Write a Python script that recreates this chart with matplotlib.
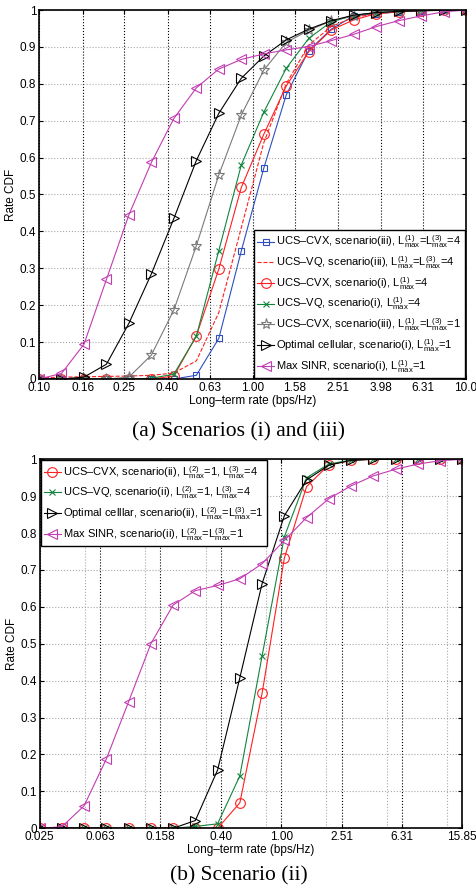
import numpy as np
import matplotlib
matplotlib.use('Agg')
import matplotlib.pyplot as plt
from matplotlib.ticker import NullLocator, NullFormatter

plt.rcParams['font.family'] = ['Liberation Sans', 'DejaVu Sans']
plt.rcParams['mathtext.fontset'] = 'custom'
plt.rcParams['mathtext.rm'] = 'Liberation Sans'
plt.rcParams['mathtext.default'] = 'regular'

# ---- data: (a) scenarios (i) and (iii), 20 points log-spaced 0.1 .. 10
rate_a = np.logspace(-1, 1, 20)
cvx_iii_4 = [0, 0, 0, 0, 0, 0, 0, 0.010, 0.110, 0.347, 0.571, 0.770, 0.890, 0.948, 0.984, 0.990, 0.995, 0.998, 1, 1]
vq_iii_4 = [0.003, 0.005, 0.006, 0.007, 0.008, 0.010, 0.016, 0.049, 0.180, 0.410, 0.640, 0.800, 0.905, 0.955, 0.980, 0.990, 0.996, 0.998, 1, 1]
cvx_i_4 = [0, 0, 0, 0, 0, 0, 0.008, 0.117, 0.298, 0.519, 0.663, 0.794, 0.887, 0.946, 0.973, 0.990, 0.995, 0.998, 1, 1]
vq_i_4 = [0, 0, 0, 0, 0, 0.002, 0.013, 0.116, 0.348, 0.580, 0.723, 0.842, 0.923, 0.968, 0.985, 0.993, 0.997, 0.999, 1, 1]
cvx_iii_1 = [0, 0, 0, 0, 0.005, 0.065, 0.187, 0.361, 0.553, 0.715, 0.837, 0.912, 0.945, 0.970, 0.985, 0.993, 0.997, 0.999, 1, 1]
opt_i_1 = [0, 0, 0.005, 0.040, 0.151, 0.285, 0.435, 0.592, 0.720, 0.815, 0.875, 0.919, 0.948, 0.971, 0.986, 0.993, 0.996, 0.998, 0.999, 1]
sinr_i_1 = [0, 0.015, 0.094, 0.270, 0.445, 0.587, 0.706, 0.789, 0.840, 0.866, 0.881, 0.892, 0.901, 0.917, 0.934, 0.955, 0.971, 0.984, 0.995, 1]
ticks_a = [0.10, 0.16, 0.25, 0.40, 0.63, 1.00, 1.58, 2.51, 3.98, 6.31, 10.0]
ticklabels_a = ['0.10', '0.16', '0.25', '0.40', '0.63', '1.00', '1.58', '2.51', '3.98', '6.31', '10.0']

# ---- data: (b) scenario (ii), 20 points log-spaced 0.025 .. 15.85
rate_b = np.logspace(-1.6, 1.2, 20)
cvx_ii = [0, 0, 0, 0, 0, 0, 0, 0, 0, 0.069, 0.366, 0.732, 0.926, 0.985, 0.997, 1, 1, 1, 1, 1]
vq_ii = [0, 0, 0, 0, 0, 0, 0, 0.005, 0.012, 0.142, 0.467, 0.790, 0.950, 0.987, 0.998, 1, 1, 1, 1, 1]
opt_ii = [0, 0, 0, 0, 0, 0, 0, 0.021, 0.158, 0.408, 0.663, 0.847, 0.944, 0.984, 0.997, 1, 1, 1, 1, 1]
sinr_ii = [0, 0.004, 0.061, 0.188, 0.343, 0.500, 0.605, 0.644, 0.658, 0.676, 0.717, 0.780, 0.842, 0.893, 0.928, 0.955, 0.973, 0.987, 0.996, 1]
ticks_b = [0.0251, 0.0631, 0.1585, 0.398, 1.0, 2.512, 6.31, 15.85]
ticklabels_b = ['0.025', '0.063', '0.158', '0.40', '1.00', '2.51', '6.31', '15.85']
minor_b = [0.0501, 0.1259, 0.3162, 0.7943, 1.995, 5.012, 12.59]

yticks = np.arange(0, 1.01, 0.1)
yticklabels = ['0', '0.1', '0.2', '0.3', '0.4', '0.5', '0.6', '0.7', '0.8', '0.9', '1']

BLUE = '#2f4fc0'
RED = '#ff1f1f'
GREEN = '#12843e'
GRAY = '#7a7a7a'
MAG = '#c23cb2'

fig = plt.figure(figsize=(4.77, 8.93), dpi=100)
ax1 = fig.add_axes([0.0818, 0.5756, 0.8952, 0.4132])
ax2 = fig.add_axes([0.083, 0.0725, 0.8862, 0.4132])


def style(ax, xmin, xmax, ticks, labels):
    ax.set_xscale('log')
    ax.set_xlim(xmin, xmax)
    ax.set_ylim(0, 1)
    ax.set_xticks(ticks)
    ax.set_xticklabels(labels)
    ax.xaxis.set_minor_locator(NullLocator())
    ax.xaxis.set_minor_formatter(NullFormatter())
    ax.set_yticks(yticks)
    ax.set_yticklabels(yticklabels)
    ax.tick_params(which='both', direction='in', top=True, right=True, labelsize=8.5, length=3, pad=2)
    ax.tick_params(which='minor', length=0)
    ax.grid(axis='y', color='#a8a8a8', linestyle=':', linewidth=0.8)
    ax.grid(axis='x', which='major', color='k', linestyle=':', linewidth=0.8)
    for s in ax.spines.values():
        s.set_linewidth(1.2)
    ax.set_xlabel('Long–term rate (bps/Hz)', fontsize=8.5, labelpad=1)
    ax.set_ylabel('Rate CDF', fontsize=8.5, labelpad=2)


mk = dict(markerfacecolor='none', linewidth=0.8, markeredgewidth=0.8)
legkw = dict(fontsize=8, borderaxespad=0.1, handlelength=1.5, handletextpad=0.2,
             labelspacing=0.35, fancybox=False, framealpha=1, edgecolor='k', borderpad=0.3)

ax1.plot(rate_a, cvx_iii_4, color=BLUE, marker='s', markersize=5,
         label='UCS–CVX, scenario(iii), L$^{(1)}_{max}$=L$^{(3)}_{max}$=4', **mk)
ax1.plot(rate_a, vq_iii_4, color=RED, linestyle='--', linewidth=0.8,
         label='UCS–VQ, scenario(iii), L$^{(1)}_{max}$=L$^{(3)}_{max}$=4')
ax1.plot(rate_a, cvx_i_4, color=RED, marker='o', markersize=7,
         label='UCS–CVX, scenario(i), L$^{(1)}_{max}$=4', **mk)
ax1.plot(rate_a, vq_i_4, color=GREEN, marker='x', markersize=5,
         label='UCS–VQ, scenario(i), L$^{(1)}_{max}$=4', **mk)
ax1.plot(rate_a, cvx_iii_1, color=GRAY, marker='*', markersize=8,
         label='UCS–CVX, scenario(iii), L$^{(1)}_{max}$=L$^{(3)}_{max}$=1', **mk)
ax1.plot(rate_a, opt_i_1, color='k', marker='>', markersize=7,
         label='Optimal cellular, scenario(i), L$^{(1)}_{max}$=1', **mk)
ax1.plot(rate_a, sinr_i_1, color=MAG, marker='<', markersize=7,
         label='Max SINR, scenario(i), L$^{(1)}_{max}$=1', **mk)
style(ax1, 0.1, 10.0, ticks_a, ticklabels_a)
leg1 = ax1.legend(loc='lower right', **legkw)
leg1.get_frame().set_linewidth(1.0)

ax2.plot(rate_b, cvx_ii, color=RED, marker='o', markersize=7,
         label='UCS–CVX, scenario(ii), L$^{(2)}_{max}$=1, L$^{(3)}_{max}$=4', **mk)
ax2.plot(rate_b, vq_ii, color=GREEN, marker='x', markersize=5,
         label='UCS–VQ, scenario(ii), L$^{(2)}_{max}$=1, L$^{(3)}_{max}$=4', **mk)
ax2.plot(rate_b, opt_ii, color='k', marker='>', markersize=7,
         label='Optimal celllar, scenario(ii), L$^{(2)}_{max}$=L$^{(3)}_{max}$=1', **mk)
ax2.plot(rate_b, sinr_ii, color=MAG, marker='<', markersize=7,
         label='Max SINR, scenario(ii), L$^{(2)}_{max}$=L$^{(3)}_{max}$=1', **mk)
style(ax2, 0.0251, 15.85, ticks_b, ticklabels_b)
ax2.set_xticks(minor_b, minor=True)
ax2.xaxis.set_minor_formatter(NullFormatter())
ax2.grid(axis='x', which='minor', color='#a8a8a8', linestyle=':', linewidth=0.8)
leg2 = ax2.legend(loc='upper left', **legkw)
leg2.get_frame().set_linewidth(1.0)

fig.text(0.5, 1 - 432 / 893, '(a) Scenarios (i) and (iii)', ha='center', va='center',
         family='Liberation Serif', fontsize=15.5)
fig.text(0.5, 1 - 876 / 893, '(b) Scenario (ii)', ha='center', va='center',
         family='Liberation Serif', fontsize=15.5)

fig.savefig('out.png', dpi=100)
